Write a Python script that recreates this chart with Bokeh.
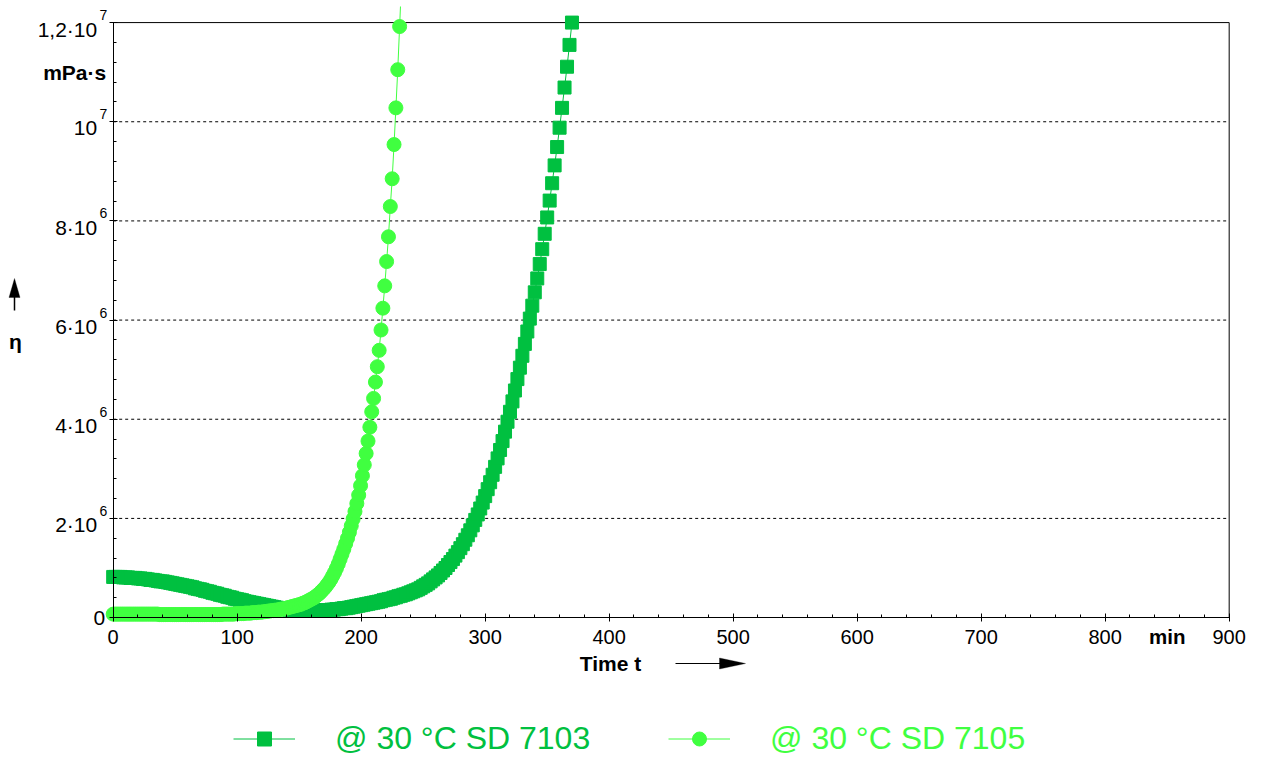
from bokeh.plotting import figure
from bokeh.models import (Range1d, SingleIntervalTicker, Label, Legend, LegendItem,
                          Arrow, PolyAnnotation)
from bokeh.embed import file_html
from bokeh.resources import INLINE

# ---------------- data ----------------
# SD 7103: one reading every 2 min, viscosity in 10^6 mPa·s
t_7103 = [2 * i for i in range(186)]
eta_7103_e6 = [
    0.82, 0.82, 0.82, 0.82, 0.81, 0.81, 0.81, 0.80, 0.80, 0.80,
    0.79, 0.79, 0.78, 0.78, 0.77, 0.76, 0.76, 0.75, 0.74, 0.73,
    0.73, 0.72, 0.71, 0.70, 0.69, 0.68, 0.67, 0.66, 0.65, 0.64,
    0.63, 0.62, 0.61, 0.59, 0.58, 0.57, 0.56, 0.54, 0.53, 0.52,
    0.50, 0.49, 0.48, 0.46, 0.45, 0.44, 0.42, 0.41, 0.40, 0.38,
    0.37, 0.36, 0.35, 0.33, 0.32, 0.31, 0.30, 0.29, 0.28, 0.27,
    0.26, 0.25, 0.24, 0.23, 0.22, 0.21, 0.20, 0.19, 0.18, 0.17,
    0.17, 0.16, 0.16, 0.15, 0.15, 0.15, 0.14, 0.14, 0.14, 0.14,
    0.14, 0.14, 0.14, 0.14, 0.14, 0.15, 0.15, 0.15, 0.16, 0.16,
    0.17, 0.17, 0.18, 0.19, 0.19, 0.20, 0.21, 0.22, 0.23, 0.24,
    0.25, 0.26, 0.27, 0.28, 0.29, 0.30, 0.31, 0.32, 0.33, 0.35,
    0.36, 0.37, 0.38, 0.40, 0.41, 0.43, 0.44, 0.46, 0.47, 0.49,
    0.51, 0.53, 0.55, 0.57, 0.60, 0.63, 0.66, 0.69, 0.73, 0.77,
    0.81, 0.85, 0.90, 0.95, 1.00, 1.06, 1.12, 1.18, 1.25, 1.32,
    1.40, 1.48, 1.57, 1.66, 1.76, 1.86, 1.97, 2.08, 2.20, 2.32,
    2.45, 2.59, 2.73, 2.88, 3.04, 3.21, 3.38, 3.56, 3.75, 3.95,
    4.15, 4.36, 4.58, 4.81, 5.04, 5.28, 5.52, 5.77, 6.03, 6.29,
    6.56, 6.84, 7.13, 7.43, 7.74, 8.07, 8.41, 8.76, 9.12, 9.49,
    9.88, 10.28, 10.69, 11.11, 11.55, 12.00,
]
# SD 7105: one reading every 1.5 min, viscosity in 10^6 mPa·s
t_7105 = [1.5 * i for i in range(156)]
eta_7105_e6 = [
    0.07, 0.07, 0.07, 0.07, 0.07, 0.07, 0.07, 0.07, 0.07, 0.07,
    0.07, 0.07, 0.07, 0.07, 0.07, 0.07, 0.07, 0.07, 0.07, 0.07,
    0.07, 0.07, 0.07, 0.07, 0.07, 0.06, 0.06, 0.06, 0.06, 0.06,
    0.06, 0.06, 0.06, 0.06, 0.06, 0.06, 0.06, 0.06, 0.06, 0.06,
    0.06, 0.06, 0.06, 0.06, 0.06, 0.06, 0.06, 0.06, 0.06, 0.06,
    0.06, 0.06, 0.06, 0.06, 0.06, 0.06, 0.06, 0.06, 0.06, 0.07,
    0.07, 0.07, 0.07, 0.07, 0.07, 0.07, 0.08, 0.08, 0.08, 0.08,
    0.08, 0.09, 0.09, 0.09, 0.09, 0.10, 0.10, 0.10, 0.11, 0.11,
    0.11, 0.12, 0.12, 0.13, 0.13, 0.14, 0.14, 0.15, 0.15, 0.16,
    0.17, 0.17, 0.18, 0.19, 0.20, 0.21, 0.22, 0.23, 0.24, 0.25,
    0.26, 0.27, 0.29, 0.30, 0.32, 0.34, 0.36, 0.38, 0.40, 0.43,
    0.46, 0.49, 0.53, 0.57, 0.61, 0.66, 0.71, 0.77, 0.84, 0.91,
    0.99, 1.08, 1.18, 1.28, 1.38, 1.49, 1.60, 1.72, 1.85, 1.99,
    2.14, 2.30, 2.47, 2.66, 2.86, 3.08, 3.31, 3.56, 3.84, 4.15,
    4.42, 4.75, 5.06, 5.39, 5.80, 6.24, 6.69, 7.18, 7.68, 8.29,
    8.85, 9.54, 10.28, 11.05, 11.92, 12.80,
]
series_names = ["@ 30 °C SD 7103", "@ 30 °C SD 7105"]
y_tick_values = [0, 2e6, 4e6, 6e6, 8e6, 1e7, 1.2e7]
y_tick_base = ["0", "2·10", "4·10", "6·10", "8·10", "10", "1,2·10"]
y_tick_exp = ["", "6", "6", "6", "6", "7", "7"]
grid_values = [2e6, 4e6, 6e6, 8e6, 1e7]

eta_7103 = [v * 1e6 for v in eta_7103_e6]
eta_7105 = [v * 1e6 for v in eta_7105_e6]

# ---------------- style ----------------
DARK = "#00C040"
LIGHT = "#40FF40"
FONT = "Liberation Sans"
X_MAX, Y_MAX = 900, 1.2e7

W, H, TOP = 1260, 758, 6
PX_PER_MIN = 1.24
PX_PER_UNIT = 49.583e-6
X0_PX, Y0_PX = 112.68, 617.08          # pixel position of (0, 0)

x_start = -X0_PX / PX_PER_MIN
x_end = (W - X0_PX) / PX_PER_MIN
y_end = (Y0_PX - TOP) / PX_PER_UNIT
y_start = y_end - (H - TOP) / PX_PER_UNIT

p = figure(width=W, height=H,
           x_range=Range1d(x_start, x_end), y_range=Range1d(y_start, y_end),
           output_backend="svg", toolbar_location=None,
           min_border_left=0, min_border_right=0,
           min_border_top=TOP, min_border_bottom=0)
p.outline_line_color = None
p.grid.visible = False
p.background_fill_color = "white"
p.border_fill_color = "white"

# pixel -> data helpers (used only to place annotations)
def ix(px):
    return (px - X0_PX) / PX_PER_MIN

def iy(py):
    return (Y0_PX - py) / PX_PER_UNIT

xa = p.xaxis[0]
xa.ticker = SingleIntervalTicker(interval=100, num_minor_ticks=5)
xa.fixed_location = 0
xa.bounds = (0, X_MAX)
xa.axis_line_color = "black"
xa.major_tick_in = 4
xa.major_tick_out = 4
xa.minor_tick_in = 3
xa.minor_tick_out = 0
xa.major_tick_line_color = "black"
xa.minor_tick_line_color = "black"
xa.major_label_text_font = FONT
xa.major_label_text_font_size = "20px"
xa.major_label_text_color = "black"
xa.major_label_standoff = 8

ya = p.yaxis[0]
ya.ticker = SingleIntervalTicker(interval=2e6, num_minor_ticks=5)
ya.fixed_location = 0
ya.bounds = (0, Y_MAX)
ya.axis_line_color = "black"
ya.major_tick_in = 4
ya.major_tick_out = 4
ya.minor_tick_in = 3
ya.minor_tick_out = 0
ya.major_tick_line_color = "black"
ya.minor_tick_line_color = "black"
ya.major_label_text_color = None
ya.major_label_text_font_size = "10px"

# dashed horizontal grid and the top / right frame lines
p.segment(x0=[0] * len(grid_values), y0=grid_values,
          x1=[X_MAX] * len(grid_values), y1=grid_values,
          line_color="black", line_width=1, line_dash="3 3")
p.segment(x0=[0, X_MAX], y0=[Y_MAX, 0], x1=[X_MAX, X_MAX], y1=[Y_MAX, Y_MAX],
          line_color="black", line_width=1)

# data
l1 = p.line(t_7103, eta_7103, line_color=DARK, line_width=1)
s1 = p.scatter(t_7103, eta_7103, marker="square", size=13,
               fill_color=DARK, line_color=DARK)
l2 = p.line(t_7105, eta_7105, line_color=LIGHT, line_width=1)
s2 = p.scatter(t_7105, eta_7105, marker="circle", size=14,
               fill_color=LIGHT, line_color=LIGHT)

# y tick labels with exponents
for v, b, e in zip(y_tick_values, y_tick_base, y_tick_exp):
    if e:
        p.add_layout(Label(x=0, y=v, x_offset=-16, y_offset=-6.5, text=b,
                           text_align="right", text_baseline="middle",
                           text_font=FONT, text_font_size="21px", text_color="black"))
        p.add_layout(Label(x=0, y=v, x_offset=-6, y_offset=7.5, text=e,
                           text_align="right", text_baseline="middle",
                           text_font=FONT, text_font_size="14px", text_color="black"))
    else:
        p.add_layout(Label(x=0, y=v, x_offset=-8, y_offset=0, text=b,
                           text_align="right", text_baseline="middle",
                           text_font=FONT, text_font_size="21px", text_color="black"))

# units and axis titles
p.add_layout(Label(x=0, y=Y_MAX, x_offset=-7, y_offset=-50, text="mPa·s",
                   text_align="right", text_baseline="middle", text_font=FONT,
                   text_font_size="21px", text_font_style="bold", text_color="black"))
p.add_layout(Label(x=850, y=0, y_offset=-19, text="min",
                   text_align="center", text_baseline="middle", text_font=FONT,
                   text_font_size="20.5px", text_font_style="bold", text_color="black"))
p.add_layout(Label(x=ix(610), y=iy(663), text="Time t",
                   text_align="center", text_baseline="middle", text_font=FONT,
                   text_font_size="21px", text_font_style="bold", text_color="black"))
p.add_layout(Label(x=ix(15), y=iy(341), text="η",
                   text_align="center", text_baseline="middle", text_font=FONT,
                   text_font_size="21px", text_font_style="bold", text_color="black"))

# arrows
p.add_layout(Arrow(end=None, x_start=ix(675), y_start=iy(663), x_end=ix(722), y_end=iy(663),
                   line_color="black", line_width=1))
p.add_layout(PolyAnnotation(xs=[ix(719), ix(719), ix(745)], ys=[iy(657.5), iy(668.5), iy(663)],
                            fill_color="black", fill_alpha=1.0, line_color="black",
                            line_width=1))
p.add_layout(Arrow(end=None, x_start=ix(14), y_start=iy(310), x_end=ix(14), y_end=iy(294),
                   line_color="black", line_width=1.5))
p.add_layout(PolyAnnotation(xs=[ix(8.5), ix(19.5), ix(14)], ys=[iy(297), iy(297), iy(278)],
                            fill_color="black", fill_alpha=1.0, line_color="black",
                            line_width=1))

# legends (one per series so each label gets its own colour)
for name, rends, col, xloc in [(series_names[0], [l1, s1], DARK, 233),
                               (series_names[1], [l2, s2], LIGHT, 668)]:
    leg = Legend(items=[LegendItem(label=name, renderers=rends)], location=(xloc, 1),
                 glyph_width=62, glyph_height=35, label_standoff=40,
                 label_text_font=FONT, label_text_font_size="32px", label_text_color=col,
                 border_line_color=None, background_fill_alpha=0, padding=0, margin=0,
                 spacing=0)
    p.add_layout(leg)

open("out.html", "w").write(file_html(p, INLINE))
